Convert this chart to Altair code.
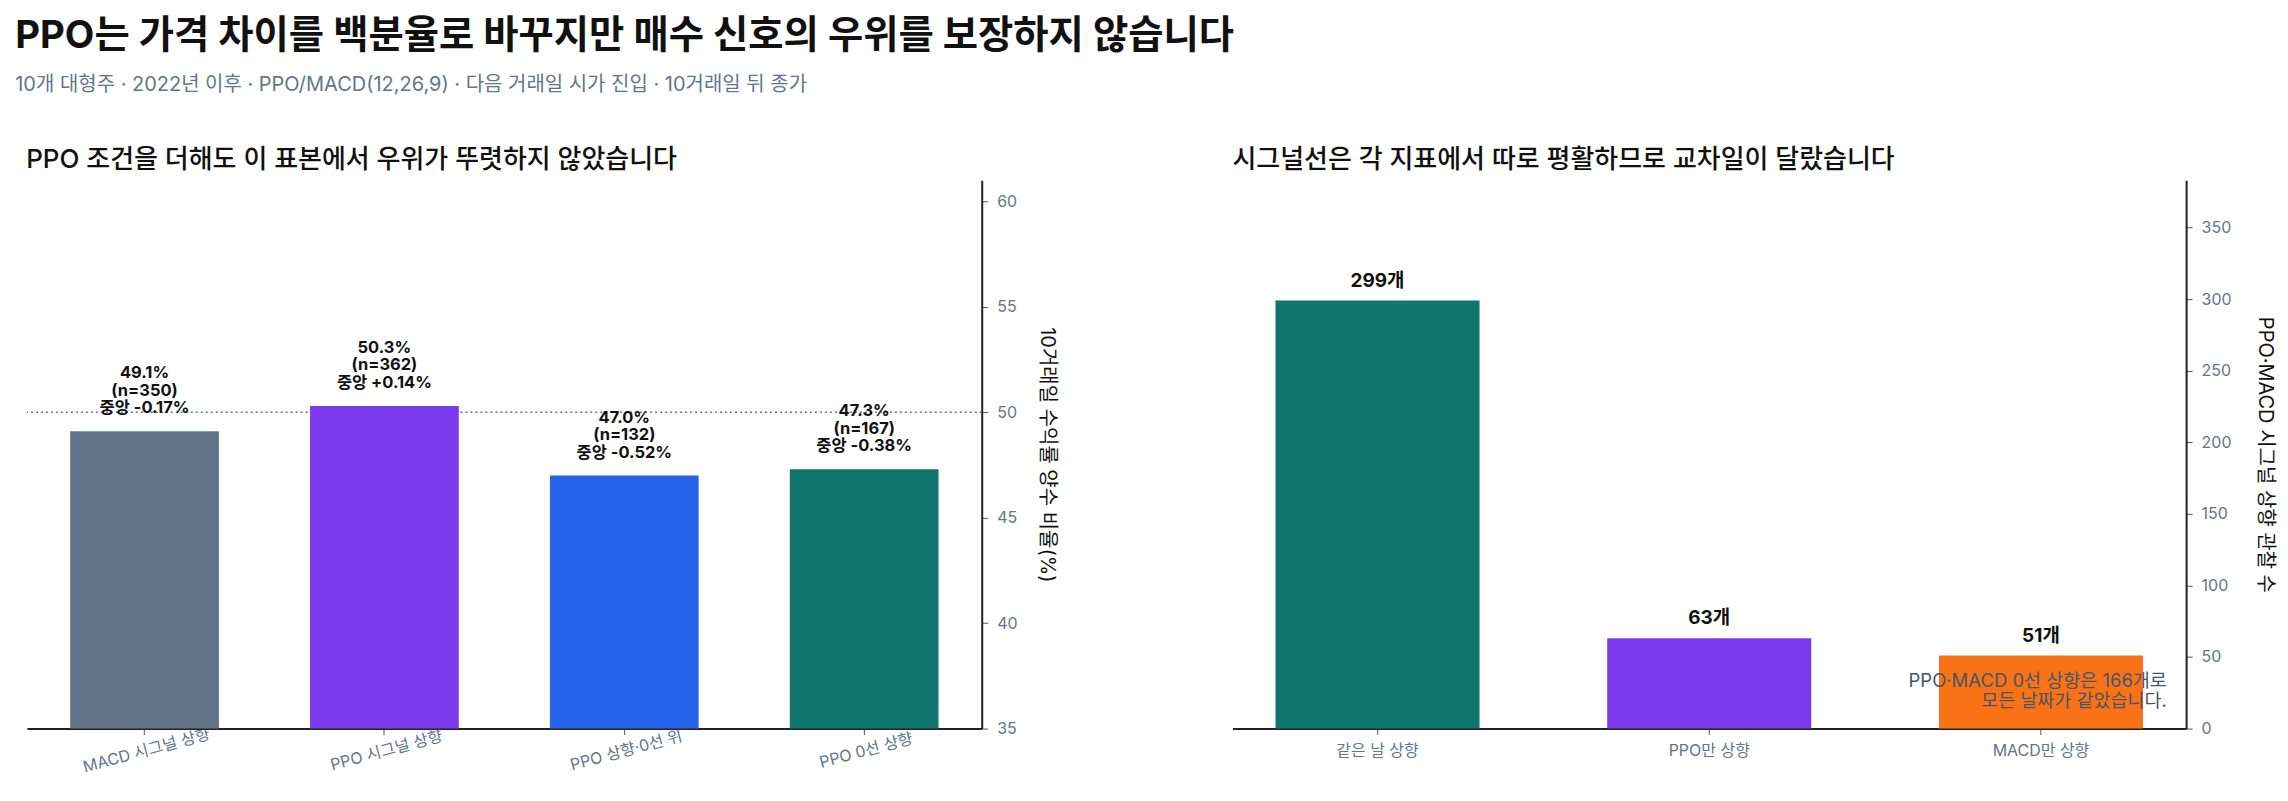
import altair as alt
import pandas as pd

FONT = "Inter, Noto Sans CJK KR, sans-serif"

# left panel: win rate by signal condition
conditions = ["MACD 시그널 상향", "PPO 시그널 상향", "PPO 상향·0선 위", "PPO 0선 상향"]
win_rates = [49.1, 50.3, 47.0, 47.3]
counts = [350, 362, 132, 167]
medians = [-0.17, 0.14, -0.52, -0.38]
cond_colors = ["#64748b", "#7c3aed", "#2563eb", "#0f766e"]

# right panel: crossover day overlap
overlap_cats = ["같은 날 상향", "PPO만 상향", "MACD만 상향"]
overlap_counts = [299, 63, 51]
overlap_colors = ["#0f766e", "#7c3aed", "#f97316"]

left_df = pd.DataFrame({
    "cond": conditions,
    "rate": win_rates,
    "label": [
        [f"{r:.1f}%", f"(n={n})", f"중앙 {m:+.2f}%"]
        for r, n, m in zip(win_rates, counts, medians)
    ],
})
right_df = pd.DataFrame({
    "cat": overlap_cats,
    "n": overlap_counts,
    "label": [f"{n}개" for n in overlap_counts],
})
note_df = pd.DataFrame({
    "cat": ["MACD만 상향"],
    "n": [33.5],
    "note": [["PPO·MACD 0선 상향은 166개로", "모든 날짜가 같았습니다."]],
})
ref_df = pd.DataFrame({"y": [50]})

axis_common = dict(
    domainColor="#222222", domainWidth=2, tickColor="#555555", tickSize=6,
    labelColor="#64748b", labelFontSize=16, titleColor="#111111",
    titleFontSize=20, titleFontWeight="normal", grid=False,
)

left_scale = alt.Scale(domain=[35, 61], zero=False, nice=False)

x_left = alt.X(
    "cond:N", sort=conditions, title=None,
    scale=alt.Scale(paddingInner=0.38, paddingOuter=0.18),
    axis=alt.Axis(labelAngle=-15, labelAlign="center", labelBaseline="top",
                  labelPadding=8, **axis_common),
)
y_left = alt.Y(
    "rate:Q", title="10거래일 수익률 양수 비율(%)", scale=left_scale,
    axis=alt.Axis(orient="right", values=[35, 40, 45, 50, 55, 60],
                  labelPadding=9, titlePadding=19, **axis_common),
)

rule = alt.Chart(ref_df).mark_rule(
    color="#64748b", strokeDash=[2, 3], strokeWidth=1.6
).encode(y=alt.Y("y:Q", scale=left_scale))

bars_left = alt.Chart(left_df).mark_bar(clip=True).encode(
    x=x_left, y=y_left,
    color=alt.Color("cond:N", scale=alt.Scale(domain=conditions, range=cond_colors),
                    legend=None),
)
text_left = alt.Chart(left_df).mark_text(
    font=FONT, fontSize=16.5, fontWeight="bold", color="#111111",
    baseline="bottom", dy=-50, lineHeight=17.5,
).encode(x=alt.X("cond:N", sort=conditions), y="rate:Q", text="label")

left = alt.layer(rule, bars_left, text_left).properties(
    width=956, height=549,
    title=alt.TitleParams("PPO 조건을 더해도 이 표본에서 우위가 뚜렷하지 않았습니다",
                          anchor="start", fontSize=26, fontWeight=500,
                          color="#111111", offset=7, font=FONT),
)

x_right = alt.X(
    "cat:N", sort=overlap_cats, title=None,
    scale=alt.Scale(paddingInner=0.385, paddingOuter=0.13),
    axis=alt.Axis(labelAngle=0, labelPadding=8, **axis_common),
)
y_right = alt.Y(
    "n:Q", title="PPO·MACD 시그널 상향 관찰 수",
    scale=alt.Scale(domain=[0, 383], nice=False),
    axis=alt.Axis(orient="right", values=list(range(0, 351, 50)),
                  labelPadding=9, titlePadding=23, **axis_common),
)

bars_right = alt.Chart(right_df).mark_bar().encode(
    x=x_right, y=y_right,
    color=alt.Color("cat:N", scale=alt.Scale(domain=overlap_cats, range=overlap_colors),
                    legend=None),
)
text_right = alt.Chart(right_df).mark_text(
    font=FONT, fontSize=19, fontWeight="bold", color="#111111",
    baseline="bottom", dy=-10,
).encode(x=alt.X("cat:N", sort=overlap_cats), y="n:Q", text="label")
note = alt.Chart(note_df).mark_text(
    font=FONT, fontSize=18.5, color="#475569", align="right",
    baseline="middle", dx=126, lineHeight=20,
).encode(x=alt.X("cat:N", sort=overlap_cats), y="n:Q", text="note")

right = alt.layer(bars_right, text_right, note).properties(
    width=955, height=549,
    title=alt.TitleParams("시그널선은 각 지표에서 따로 평활하므로 교차일이 달랐습니다",
                          anchor="start", fontSize=26, fontWeight=500,
                          color="#111111", offset=7, font=FONT),
)

chart = alt.hconcat(left, right, spacing=176).resolve_scale(
    color="independent"
).properties(
    title=alt.TitleParams(
        "PPO는 가격 차이를 백분율로 바꾸지만 매수 신호의 우위를 보장하지 않습니다",
        subtitle="10개 대형주 · 2022년 이후 · PPO/MACD(12,26,9) · 다음 거래일 시가 진입 · 10거래일 뒤 종가",
        anchor="start", fontSize=38.4, fontWeight="bold", color="#111111",
        subtitleFontSize=20, subtitleColor="#64748b", subtitlePadding=19,
        offset=51, dx=-11, font=FONT, subtitleFont=FONT,
    ),
    padding={"left": 7, "top": 8, "right": 5, "bottom": 5},
).configure(font=FONT).configure_view(stroke=None)

chart.save("out.html", embed_options={"renderer": "svg", "actions": False})
